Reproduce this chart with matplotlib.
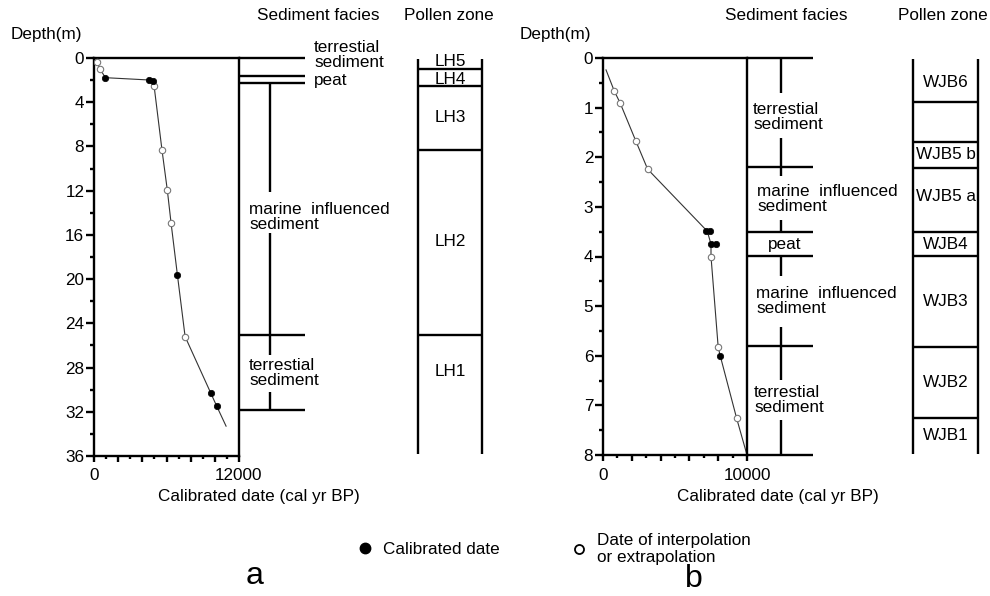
import matplotlib
matplotlib.use("Agg")
import matplotlib.pyplot as plt
from matplotlib.lines import Line2D
from matplotlib.ticker import MultipleLocator, FuncFormatter

plt.rcParams['font.family'] = ['Liberation Sans', 'DejaVu Sans']

# ---------------- data: panel a ----------------
a_line_age = [0, 220, 500, 940, 4580, 4910, 4970, 5630, 6070, 6380, 6900, 7540, 9660, 10160, 10930]
a_line_depth = [0, 0.33, 1.0, 1.78, 1.99, 2.05, 2.5, 8.35, 11.97, 14.95, 19.6, 25.2, 30.3, 31.5, 33.3]
a_cal_age = [940, 4580, 4910, 6900, 9660, 10160]
a_cal_depth = [1.78, 1.99, 2.05, 19.6, 30.3, 31.5]
a_int_age = [220, 500, 4970, 5630, 6070, 6380, 7540]
a_int_depth = [0.33, 1.0, 2.5, 8.35, 11.97, 14.95, 25.2]

a_facies_bounds = [0, 1.63, 2.26, 25.1, 31.8]
a_facies_inner = [(2.26, 12.1), (15.8, 26.85), (30.2, 31.8)]
a_facies_labels = ["terrestial\nsediment", "peat", "marine  influenced\nsediment", "terrestial\nsediment"]
a_facies_label_depth = [-0.25, 2.0, 14.4, 28.5]

a_pollen_bounds = [1.0, 2.5, 8.3, 25.1]
a_pollen_labels = ["LH5", "LH4", "LH3", "LH2", "LH1"]
a_pollen_label_depth = [0.3, 1.9, 5.4, 16.6, 28.4]

# ---------------- data: panel b ----------------
b_line_age = [210, 790, 1180, 2290, 3100, 7240, 7500, 7500, 8000, 8140, 9280, 10000]
b_line_depth = [0.24, 0.67, 0.90, 1.68, 2.24, 3.49, 3.75, 4.0, 5.83, 6.0, 7.26, 8.0]
b_cal_age = [7180, 7400, 7520, 7850, 8140]
b_cal_depth = [3.49, 3.49, 3.75, 3.75, 6.0]
b_int_age = [790, 1180, 2290, 3100, 7500, 8000, 9280]
b_int_depth = [0.67, 0.90, 1.68, 2.24, 4.0, 5.83, 7.26]

b_facies_bounds = [0, 2.2, 3.5, 3.99, 5.8, 8.0]
b_facies_inner = [(0, 0.70), (1.62, 2.38), (3.27, 3.5), (3.99, 4.4), (5.42, 6.49), (7.29, 8.0)]
b_facies_labels = ["terrestial\nsediment", "marine  influenced\nsediment", "peat",
                   "marine  influenced\nsediment", "terrestial\nsediment"]
b_facies_label_depth = [1.18, 2.84, 3.75, 4.9, 6.89]

b_pollen_bounds = [0.89, 1.69, 2.22, 3.5, 3.99, 5.83, 7.25]
b_pollen_labels = ["WJB6", "WJB5 b", "WJB5 a", "WJB4", "WJB3", "WJB2", "WJB1"]
b_pollen_label_depth = [0.49, 1.94, 2.79, 3.75, 4.9, 6.53, 7.6]

legend_labels = ["Calibrated date", "Date of interpolation\nor extrapolation"]

# ---------------- layout helpers ----------------
W, H = 990, 596
fig = plt.figure(figsize=(W / 100, H / 100), dpi=100)


def px_axes(x0, x1, y0, y1):
    return fig.add_axes([x0 / W, 1 - y1 / H, (x1 - x0) / W, (y1 - y0) / H])


def ftext(x, y, s, **kw):
    fig.text(x / W, 1 - y / H, s, **kw)


LW = 1.7
FS = 12.3


def age_panel(box, xmax, ymax, line_age, line_depth, cal_age, cal_depth, int_age, int_depth,
              ymajor, yminor, xlabel_center):
    x0, x1, y0, y1 = box
    ax = px_axes(*box)
    ax.plot(line_age, line_depth, color='#333333', lw=0.8, zorder=2)
    ax.plot(int_age, int_depth, 'o', ms=4.6, mfc='white', mec='#777777', mew=0.8, zorder=3)
    ax.plot(cal_age, cal_depth, 'o', ms=4.6, mfc='black', mec='black', mew=0.5, zorder=4)
    ax.set_xlim(0, xmax)
    ax.set_ylim(ymax, 0)
    for s in ax.spines.values():
        s.set_linewidth(LW)
    ax.yaxis.set_major_locator(MultipleLocator(ymajor))
    ax.yaxis.set_minor_locator(MultipleLocator(yminor))
    ax.xaxis.set_major_locator(MultipleLocator(2000))
    ax.xaxis.set_minor_locator(MultipleLocator(1000))
    ax.xaxis.set_major_formatter(FuncFormatter(lambda v, p: f"{int(v)}" if v in (0, xmax) else ""))
    ax.yaxis.set_major_formatter(FuncFormatter(lambda v, p: f"{int(v)}"))
    ax.tick_params(axis='y', which='major', length=5.5, width=LW, labelsize=FS, pad=1.5)
    ax.tick_params(axis='y', which='minor', length=3, width=LW)
    ax.tick_params(axis='x', which='major', length=4.5, width=LW, labelsize=FS, pad=4.5)
    ax.tick_params(axis='x', which='minor', length=2.5, width=LW)
    ax.set_xlabel("Calibrated date (cal yr BP)", fontsize=FS)
    ax.xaxis.set_label_coords((xlabel_center - x0) / (x1 - x0), -(497 - y1) / (y1 - y0))
    ax.xaxis.label.set_va('center')
    return ax


def facies_column(parent, x0, x1, xinner, bounds, inner, labels, label_depth, label_x, ha_list):
    ax = fig.add_axes([x0 / W, parent.get_position().y0, (x1 - x0) / W, parent.get_position().height],
                      sharey=parent)
    ax.set_xlim(0, 1)
    ax.axis('off')
    for d in bounds:
        ax.plot([0, 1], [d, d], color='black', lw=LW, clip_on=False, solid_capstyle='butt')
    xi = (xinner - x0) / (x1 - x0)
    for d0, d1 in inner:
        ax.plot([xi, xi], [d0, d1], color='black', lw=LW, clip_on=False, solid_capstyle='butt')
    for lab, d, lx, ha in zip(labels, label_depth, label_x, ha_list):
        ax.text((lx - x0) / (x1 - x0), d, lab, ha=ha, va='center', fontsize=FS,
                linespacing=1.0, clip_on=False)
    return ax


def pollen_column(parent, x0, x1, top, bottom, bounds, labels, label_depth):
    ax = fig.add_axes([x0 / W, parent.get_position().y0, (x1 - x0) / W, parent.get_position().height],
                      sharey=parent)
    ax.set_xlim(0, 1)
    ax.axis('off')
    for xx in (0, 1):
        ax.plot([xx, xx], [top, bottom], color='black', lw=LW, clip_on=False, solid_capstyle='butt')
    for d in bounds:
        ax.plot([0, 1], [d, d], color='black', lw=LW, clip_on=False, solid_capstyle='butt')
    for lab, d in zip(labels, label_depth):
        ax.text(0.5, d, lab, ha='center', va='center', fontsize=FS, clip_on=False)
    return ax


# ---------------- panel a ----------------
axa = age_panel((94, 239, 58, 456), 12000, 36, a_line_age, a_line_depth, a_cal_age, a_cal_depth,
                a_int_age, a_int_depth, 4, 2, 259)
facies_column(axa, 239, 305, 270, a_facies_bounds, a_facies_inner, a_facies_labels,
              a_facies_label_depth, [314, 314, 249, 249], ['left'] * 4)
pollen_column(axa, 418, 482, 0.05, 35.8, a_pollen_bounds, a_pollen_labels, a_pollen_label_depth)

# ---------------- panel b ----------------
axb = age_panel((603, 747, 58, 455), 10000, 8, b_line_age, b_line_depth, b_cal_age, b_cal_depth,
                b_int_age, b_int_depth, 1, 0.5, 778)
facies_column(axb, 747, 813, 781, b_facies_bounds, b_facies_inner, b_facies_labels,
              b_facies_label_depth, [753, 757, 785, 756, 754], ['left', 'left', 'center', 'left', 'left'])
pollen_column(axb, 913, 978, 0.03, 7.98, b_pollen_bounds, b_pollen_labels, b_pollen_label_depth)

# ---------------- headers ----------------
for x, s in [(318, "Sediment facies"), (449, "Pollen zone"), (786, "Sediment facies"), (943, "Pollen zone")]:
    ftext(x, 16, s, ha='center', va='center', fontsize=FS)
ftext(11, 35, "Depth(m)", ha='left', va='center', fontsize=FS)
ftext(520, 35, "Depth(m)", ha='left', va='center', fontsize=FS)

# ---------------- legend ----------------
handles = [Line2D([], [], ls='none', marker='o', ms=7.5, mfc='black', mec='black'),
           Line2D([], [], ls='none', marker='o', ms=6.5, mfc='white', mec='black', mew=1.3)]
for h, lab, x0 in zip(handles, legend_labels, [356.5, 570.5]):
    fig.legend(handles=[h], labels=[lab], loc='center left', bbox_to_anchor=(x0 / W, 1 - 549 / H),
               frameon=False, fontsize=FS, handlelength=1.0, handletextpad=0.55,
               borderpad=0, borderaxespad=0)

ftext(255, 584, "a", ha='center', va='baseline', fontsize=23)
ftext(694, 587, "b", ha='center', va='baseline', fontsize=23)

fig.savefig("out.png", dpi=100)
